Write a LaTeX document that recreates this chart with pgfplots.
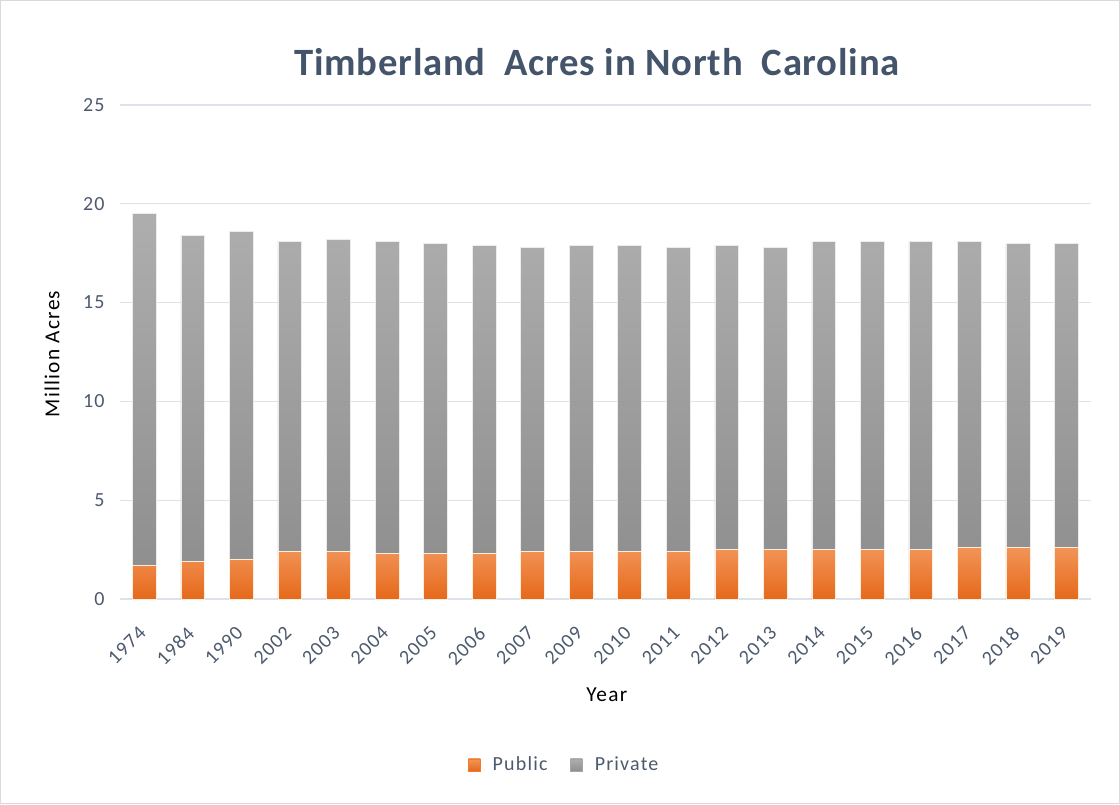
\documentclass[border=0pt]{standalone}
\usepackage{pgfplots}
\pgfplotsset{compat=1.18}
\usepackage{fontspec}
\setmainfont{Carlito}[LetterSpace=6]
\newfontfamily\titlefont{Carlito}[LetterSpace=2]
\definecolor{titlec}{HTML}{44546A}
\definecolor{tickc}{HTML}{4D5A6E}
\definecolor{gridc}{HTML}{DDE2EA}
\definecolor{frame}{HTML}{D9D9D9}
\definecolor{orTop}{HTML}{F29458}
\definecolor{orBot}{HTML}{E5691B}
\definecolor{orLeg}{HTML}{EF7D2D}
\definecolor{grTop}{HTML}{AEAEAE}
\definecolor{grBot}{HTML}{8F8F8F}
\definecolor{grLeg}{HTML}{A5A5A5}
\begin{document}
\begin{tikzpicture}
\path[use as bounding box] (0pt,0pt) rectangle (840pt,603pt);
\fill[white] (0pt,0pt) rectangle (840pt,603pt);
\draw[frame, line width=0.75pt] (0.6pt,0.6pt) rectangle (839.4pt,602.4pt);
\node[text=titlec, font=\titlefont\fontsize{29}{32}\selectfont\bfseries] at (447.75pt,556.5pt) {Timberland\ \ Acres in North\ \ Carolina};
\begin{axis}[
  at={(90pt,153.75pt)}, anchor=south west,
  scale only axis, width=728pt, height=370.5pt,
  ybar stacked, bar width=0.49,
  xmin=-0.5, xmax=19.5, ymin=0, ymax=25,
  xtick={0,...,19},
  xticklabels={1974,1984,1990,2002,2003,2004,2005,2006,2007,2009,2010,2011,2012,2013,2014,2015,2016,2017,2018,2019},
  ytick={0,5,...,25},
  ymajorgrids, grid style={gridc, line width=0.9pt},
  axis line style={draw=none},
  major tick length=0pt,
  /pgf/number format/assume math mode=true,
  tick label style={text=tickc, font=\fontsize{15}{17}\selectfont},
  yticklabel style={xshift=-8pt},
  xticklabel style={rotate=45, anchor=east, xshift=-14pt, yshift=-15.5pt},
  xlabel={Year}, ylabel={Million Acres},
  every axis x label/.style={at={(axis description cs:0.5015,-0.194)}, anchor=center, font=\fontsize{16}{18}\selectfont},
  every axis y label/.style={at={(axis description cs:-0.070,0.496)}, rotate=90, anchor=center, font=\fontsize{16}{18}\selectfont},
  legend columns=2,
  legend style={draw=none, at={(axis description cs:0.458,-0.336)}, anchor=center,
    font=\fontsize{15}{17}\selectfont, text=tickc,
    /tikz/every odd column/.append style={column sep=7pt},
    /tikz/every even column/.append style={column sep=15pt}},
]
\addplot[draw=white!85!orange, line width=0.4pt, top color=orTop, bottom color=orBot,
  legend image code/.code={\fill[orLeg] (0pt,-4.5pt) rectangle (9pt,4.5pt);}] coordinates {
(0,1.7)(1,1.9)(2,2.0)(3,2.4)(4,2.4)(5,2.3)(6,2.3)(7,2.3)(8,2.4)(9,2.4)
(10,2.4)(11,2.4)(12,2.5)(13,2.5)(14,2.5)(15,2.5)(16,2.5)(17,2.6)(18,2.6)(19,2.6)};
\addplot[draw=white!85!gray, line width=0.4pt, top color=grTop, bottom color=grBot,
  legend image code/.code={\fill[grLeg] (0pt,-4.5pt) rectangle (9pt,4.5pt);}] coordinates {
(0,17.8)(1,16.5)(2,16.6)(3,15.7)(4,15.8)(5,15.8)(6,15.7)(7,15.6)(8,15.4)(9,15.5)
(10,15.5)(11,15.4)(12,15.4)(13,15.3)(14,15.6)(15,15.6)(16,15.6)(17,15.5)(18,15.4)(19,15.4)};
\legend{Public,Private}
\end{axis}
\end{tikzpicture}
\end{document}
